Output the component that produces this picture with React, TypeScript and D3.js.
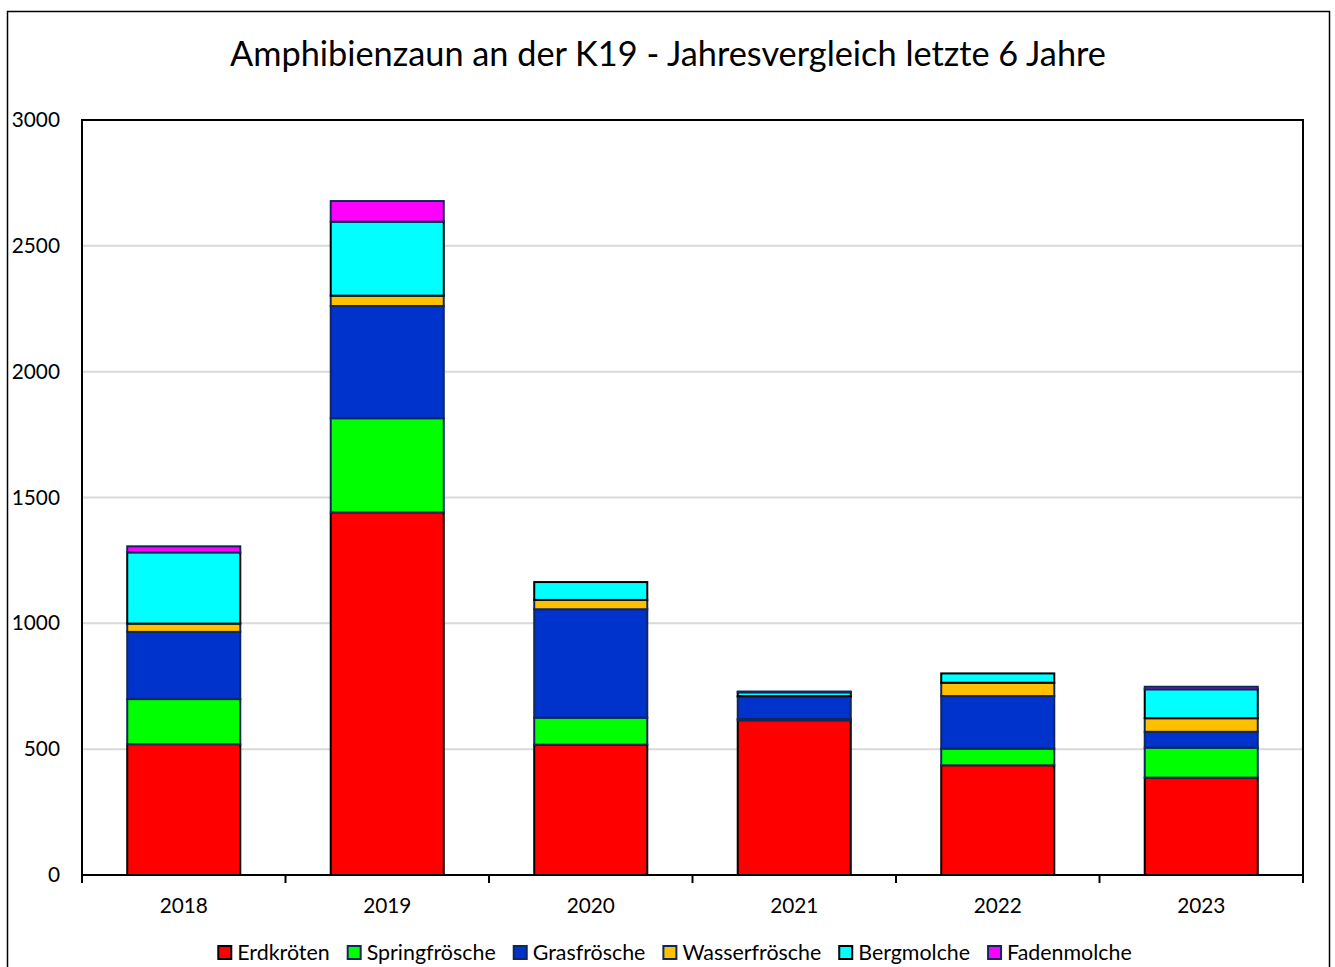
import React, { useEffect, useRef } from "react";
import * as d3 from "d3";

const years = ["2018", "2019", "2020", "2021", "2022", "2023"];
const seriesNames = ["Erdkröten", "Springfrösche", "Grasfrösche", "Wasserfrösche", "Bergmolche", "Fadenmolche"];
const erdkroeten = [520, 1441, 518, 615, 436, 387];
const springfroesche = [179, 374, 107, 5, 66, 119];
const grasfroesche = [267, 446, 431, 88, 209, 63];
const wasserfroesche = [33, 41, 37, 3, 53, 54];
const bergmolche = [283, 294, 71, 15, 37, 115];
const fadenmolche = [24, 82, 0, 3, 0, 10];
const yTicks = [0, 500, 1000, 1500, 2000, 2500, 3000];
const title = "Amphibienzaun an der K19 - Jahresvergleich letzte 6 Jahre";

const fills = ["#FF0000", "#00FF00", "#0033CC", "#FFC000", "#00FFFF", "#FF00FF"];
const strokes = ["#000000", "#10275e", "#10275e", "#10275e", "#000000", "#10275e"];

const W = 1335;
const H = 967;
const FONT = "Lato, 'Open Sans', sans-serif";

export default function App() {
  const ref = useRef<SVGSVGElement | null>(null);

  useEffect(() => {
    const svg = d3.select(ref.current);
    svg.selectAll("*").remove();

    const m = { left: 82, top: 120, right: 1303, bottom: 875 };
    const values = [erdkroeten, springfroesche, grasfroesche, wasserfroesche, bergmolche, fadenmolche];
    const rows = years.map((y, i) => {
      const r: any = { year: y };
      seriesNames.forEach((s, j) => (r[s] = values[j][i]));
      return r;
    });
    const stacked = d3.stack().keys(seriesNames)(rows);

    const x = d3.scaleBand().domain(years).range([m.left, m.right]).paddingInner(0.8 / 1.8).paddingOuter(0.4 / 1.8);
    const y = d3.scaleLinear().domain([0, 3000]).range([m.bottom, m.top]);

    // outer border
    svg.append("rect").attr("x", 7.5).attr("y", 11.5).attr("width", 1322).attr("height", 980)
      .attr("fill", "white").attr("stroke", "#000").attr("stroke-width", 1.5);

    // title
    svg.append("text").attr("x", 668).attr("y", 66).attr("text-anchor", "middle")
      .attr("font-family", FONT).attr("font-size", 34.3).attr("fill", "#000").text(title);

    // gridlines
    svg.append("g").selectAll("line").data(yTicks.filter((t) => t > 0 && t < 3000)).join("line")
      .attr("x1", m.left).attr("x2", m.right).attr("y1", (d) => y(d)).attr("y2", (d) => y(d))
      .attr("stroke", "#d9d9d9").attr("stroke-width", 2);

    // bars
    stacked.forEach((layer, j) => {
      svg.append("g").selectAll("rect").data(layer).join("rect")
        .attr("x", (d: any) => x(d.data.year)!)
        .attr("width", x.bandwidth())
        .attr("y", (d: any) => y(d[1]))
        .attr("height", (d: any) => Math.max(0, y(d[0]) - y(d[1])))
        .attr("fill", fills[j])
        .attr("stroke", strokes[j])
        .attr("stroke-width", (d: any) => (d[1] - d[0] > 0 ? 2 : 0));
    });

    // plot border (top, right, left)
    svg.append("path")
      .attr("d", `M${m.left},${m.bottom} V${m.top} H${m.right} V${m.bottom}`)
      .attr("fill", "none").attr("stroke", "#000").attr("stroke-width", 2);

    // x axis
    svg.append("line").attr("x1", m.left).attr("x2", m.right).attr("y1", m.bottom).attr("y2", m.bottom)
      .attr("stroke", "#000").attr("stroke-width", 2);
    const boundaries = d3.range(years.length + 1).map((i) => m.left + i * ((m.right - m.left) / years.length));
    svg.append("g").selectAll("line").data(boundaries).join("line")
      .attr("x1", (d) => d).attr("x2", (d) => d).attr("y1", m.bottom).attr("y2", m.bottom + 8)
      .attr("stroke", "#000").attr("stroke-width", 2);
    svg.append("g").selectAll("text").data(years).join("text")
      .attr("x", (d) => x(d)! + x.bandwidth() / 2).attr("y", 913)
      .attr("text-anchor", "middle").attr("font-family", FONT).attr("font-size", 20.8).attr("fill", "#000")
      .text((d) => d);

    // y labels
    svg.append("g").selectAll("text").data(yTicks).join("text")
      .attr("x", 60).attr("y", (d) => y(d) + 7)
      .attr("text-anchor", "end").attr("font-family", FONT).attr("font-size", 20.8).attr("fill", "#000")
      .text((d) => String(d));

    // legend
    const lg = svg.append("g");
    const items = seriesNames.map((s, j) => {
      const g = lg.append("g");
      g.append("rect").attr("x", 0).attr("y", -14).attr("width", 13).attr("height", 13)
        .attr("fill", fills[j]).attr("stroke", j === 0 || j === 4 ? "#000" : "#10275e").attr("stroke-width", 2);
      const t = g.append("text").attr("x", 19).attr("y", 0).attr("font-family", FONT).attr("font-size", 21.4)
        .attr("fill", "#000").text(s);
      const w = 19 + (t.node() as SVGTextElement).getComputedTextLength();
      return { g, w };
    });
    const gap = 18;
    const total = d3.sum(items, (d) => d.w) + gap * (items.length - 1);
    let cx = 675 - total / 2;
    items.forEach((it) => {
      it.g.attr("transform", `translate(${cx},960)`);
      cx += it.w + gap;
    });
  }, []);

  return (
    <svg ref={ref} width={W} height={H} style={{ position: "absolute", left: 0, top: 0, background: "#fff" }} />
  );
}
